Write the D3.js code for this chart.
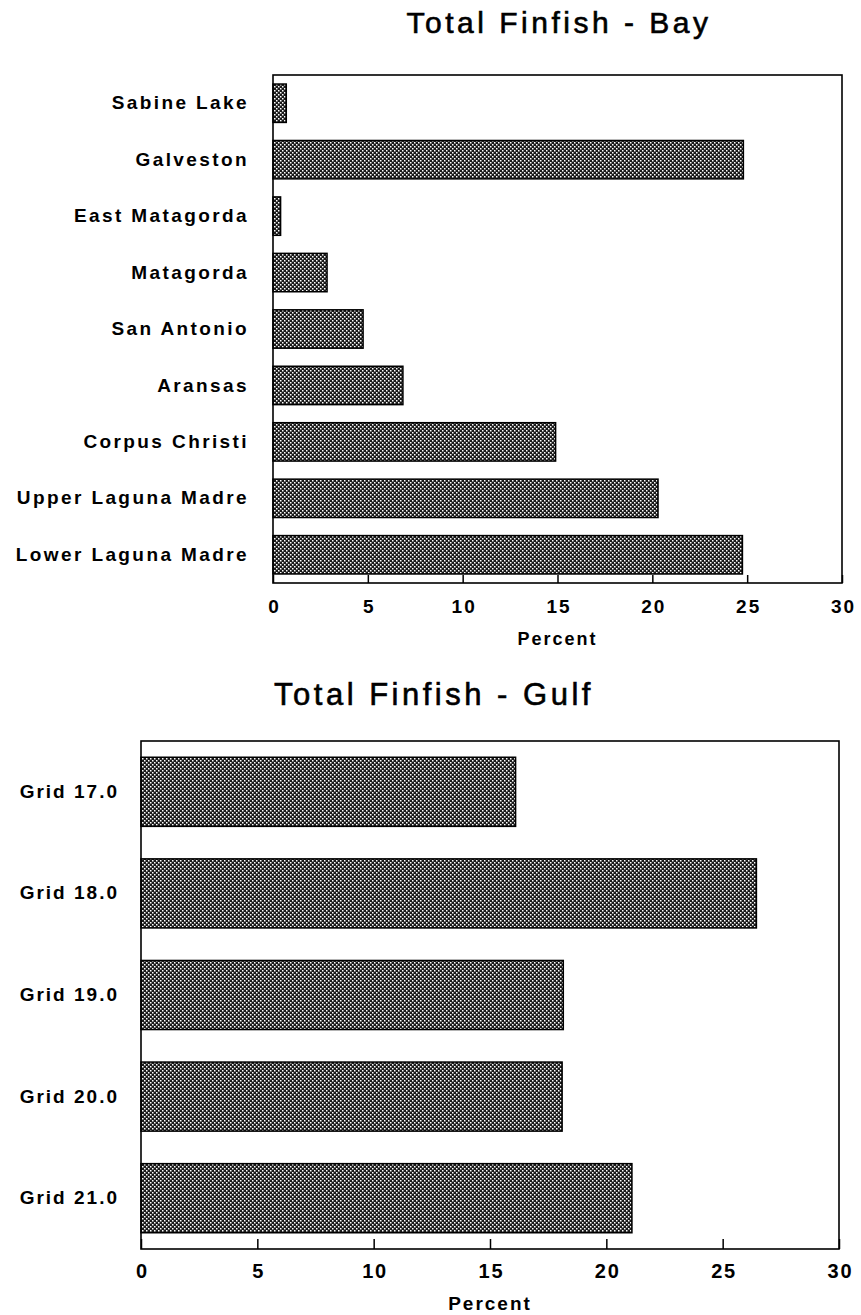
<!DOCTYPE html>
<html>
<head>
<meta charset="utf-8">
<script src="https://cdn.jsdelivr.net/npm/d3@7"></script>
<style>
  body { margin: 0; background: #fff; }
  svg { display: block; font-family: 'Liberation Sans', Arial, sans-serif; }
</style>
</head>
<body>
<script>
  const bayNames = [
    'Sabine Lake',
    'Galveston',
    'East Matagorda',
    'Matagorda',
    'San Antonio',
    'Aransas',
    'Corpus Christi',
    'Upper Laguna Madre',
    'Lower Laguna Madre',
  ];
  const bayValues = [0.7, 24.8, 0.4, 2.85, 4.75, 6.85, 14.9, 20.3, 24.75];

  const gulfNames = ['Grid 17.0', 'Grid 18.0', 'Grid 19.0', 'Grid 20.0', 'Grid 21.0'];
  const gulfValues = [16.1, 26.45, 18.15, 18.1, 21.1];

  const xTicks = [0, 5, 10, 15, 20, 25, 30];

  const width = 861;
  const height = 1315;

  const svg = d3.select('body').append('svg').attr('width', width).attr('height', height);

  // halftone fill like the old printout
  const pat = svg
    .append('defs')
    .append('pattern')
    .attr('id', 'dots')
    .attr('patternUnits', 'userSpaceOnUse')
    .attr('width', 4)
    .attr('height', 4);
  pat.append('rect').attr('width', 4).attr('height', 4).attr('fill', '#1a1a1a');
  pat.append('rect').attr('x', 0).attr('y', 0).attr('width', 1.5).attr('height', 1.5).attr('fill', '#fff');
  pat.append('rect').attr('x', 2).attr('y', 2).attr('width', 1.5).attr('height', 1.5).attr('fill', '#fff');

  function drawChart(opt) {
    const names = opt.names;
    const values = opt.values;
    const data = names.map((n, i) => ({ name: n, value: values[i] }));

    const x = d3.scaleLinear().domain([0, 30]).range([opt.left, opt.right]);
    const y = d3
      .scaleBand()
      .domain(names)
      .range([opt.top, opt.bottom])
      .paddingInner(0.32)
      .paddingOuter(0.16);

    const g = svg.append('g');

    // title
    g.append('text')
      .attr('x', opt.titleX)
      .attr('y', opt.titleY)
      .attr('text-anchor', 'middle')
      .attr('stroke', '#000')
      .attr('stroke-width', 0.6)
      .style('font-size', opt.titleSize + 'px')
      .style('letter-spacing', opt.titleSpacing + 'px')
      .text(opt.title);

    // bars
    g.append('g')
      .selectAll('rect')
      .data(data)
      .enter()
      .append('rect')
      .attr('x', x(0))
      .attr('y', (d) => y(d.name))
      .attr('width', (d) => x(d.value) - x(0))
      .attr('height', y.bandwidth())
      .attr('fill', 'url(#dots)')
      .attr('stroke', '#000')
      .attr('stroke-width', 1.5);

    // frame
    g.append('rect')
      .attr('x', opt.left)
      .attr('y', opt.top)
      .attr('width', opt.right - opt.left)
      .attr('height', opt.bottom - opt.top)
      .attr('fill', 'none')
      .attr('stroke', '#000')
      .attr('stroke-width', 1.6);

    const xAxis = d3
      .axisBottom(x)
      .tickValues(xTicks)
      .tickSize(-opt.tickLen)
      .tickPadding(opt.tickPad)
      .tickFormat(d3.format('d'));
    const ax = g.append('g').attr('transform', `translate(0,${opt.bottom})`).call(xAxis);
    ax.select('.domain').remove();
    ax.selectAll('line').attr('stroke', '#000').attr('stroke-width', 1.5);
    ax.selectAll('text')
      .attr('fill', '#000')
      .style('font-size', opt.tickSize + 'px')
      .style('font-weight', 'bold')
      .style('letter-spacing', opt.tickSpacing + 'px')
      .attr('dx', opt.tickSpacing / 2);

    const yAxis = d3.axisLeft(y).tickSize(0).tickPadding(opt.labelPad);
    const ay = g.append('g').attr('transform', `translate(${opt.left},0)`).call(yAxis);
    ay.select('.domain').remove();
    ay.selectAll('text')
      .attr('fill', '#000')
      .style('font-size', opt.labelSize + 'px')
      .style('font-weight', 'bold')
      .style('letter-spacing', opt.labelSpacing + 'px');

    g.append('text')
      .attr('x', (opt.left + opt.right) / 2)
      .attr('y', opt.xLabelY)
      .attr('text-anchor', 'middle')
      .style('font-size', opt.xLabelSize + 'px')
      .style('font-weight', 'bold')
      .style('letter-spacing', '2px')
      .text('Percent');
  }

  drawChart({
    names: bayNames,
    values: bayValues,
    title: 'Total Finfish - Bay',
    titleX: 559,
    titleY: 33,
    titleSize: 30,
    titleSpacing: 3.5,
    left: 273,
    right: 842,
    top: 75,
    bottom: 583,
    tickLen: 8,
    tickPad: 17,
    tickSize: 19,
    tickSpacing: 2,
    labelPad: 24,
    labelSize: 19,
    labelSpacing: 2.4,
    xLabelY: 645,
    xLabelSize: 18,
  });

  drawChart({
    names: gulfNames,
    values: gulfValues,
    title: 'Total Finfish - Gulf',
    titleX: 434,
    titleY: 705,
    titleSize: 31,
    titleSpacing: 3.5,
    left: 141,
    right: 839,
    top: 741,
    bottom: 1249,
    tickLen: 10,
    tickPad: 15,
    tickSize: 20,
    tickSpacing: 1.8,
    labelPad: 22,
    labelSize: 19,
    labelSpacing: 2,
    xLabelY: 1310,
    xLabelSize: 19,
  });
</script>
</body>
</html>
